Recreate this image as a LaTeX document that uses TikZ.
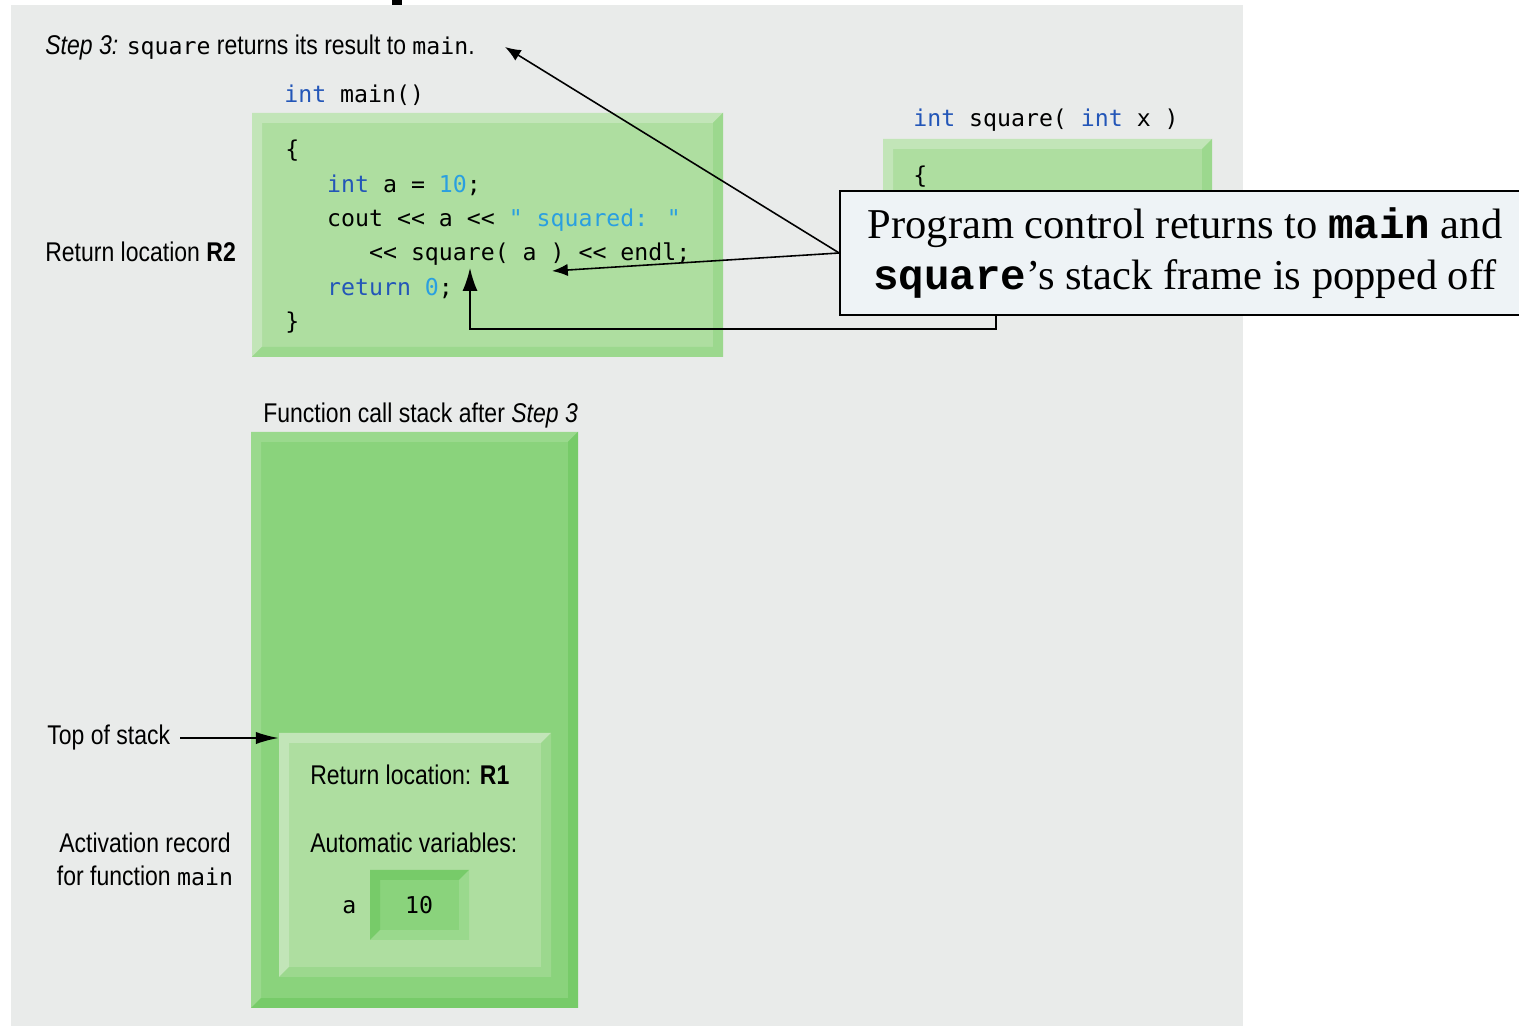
\documentclass[tikz,border=0pt]{standalone}
\usepackage{fontspec}
\newfontfamily\lblfont{Liberation Sans}[FakeStretch=0.85]
\newfontfamily\codefont{DejaVu Sans Mono}
\newfontfamily\notefont{Liberation Serif}
\newfontfamily\notemono{Liberation Mono}
\usetikzlibrary{fit,arrows.meta,positioning}

\definecolor{panel}{HTML}{E9EBEA}
\definecolor{paleface}{HTML}{AEDEA0}
\definecolor{palelight}{HTML}{C2E5B8}
\definecolor{paledark}{HTML}{9CD88E}
\definecolor{midface}{HTML}{8AD37C}
\definecolor{midlight}{HTML}{9AD98D}
\definecolor{middark}{HTML}{77CB69}
\definecolor{notefill}{HTML}{EEF3F6}
\definecolor{kwblue}{HTML}{2356B8}
\definecolor{litblue}{HTML}{2A9FE0}

\newcommand\kw[1]{\textcolor{kwblue}{#1}}
\newcommand\lit[1]{\textcolor{litblue}{#1}}
\newcommand\cfn[1]{{\codefont\fontsize{13.2}{16}\selectfont#1}}
\newcommand\bevw{0.2cm}

\tikzset{
	bevel/.style n args={3}{fill=#1, inner sep=0pt, path picture={
		\fill[#2] (path picture bounding box.south west) -- (path picture bounding box.north west)
			-- (path picture bounding box.north east) -- ++(-\bevw,-\bevw)
			-- ([shift={(\bevw,-\bevw)}]path picture bounding box.north west)
			-- ([shift={(\bevw,\bevw)}]path picture bounding box.south west) -- cycle;
		\fill[#3] (path picture bounding box.south west) -- (path picture bounding box.south east)
			-- (path picture bounding box.north east) -- ++(-\bevw,-\bevw)
			-- ([shift={(-\bevw,\bevw)}]path picture bounding box.south east)
			-- ([shift={(\bevw,\bevw)}]path picture bounding box.south west) -- cycle;
	}},
	lbl/.style={inner sep=0pt, font=\lblfont\fontsize{15.4}{18.8}\selectfont},
	code/.style={inner sep=0pt, font=\codefont\fontsize{13.2}{19.5}\selectfont},
	arr/.style={line width=0.9pt, -{Latex[length=9pt,width=7pt]}},
}

\begin{document}
\begin{tikzpicture}[x=0.02cm, y=-0.02cm]
	\useasboundingbox (0,0) rectangle (1519,1026);
	\fill[panel] (11,5) rectangle (1243,1026);
	\fill[black] (392,0) rectangle (402,5);

	\node[fit={(252,113) (723,357)}, bevel={paleface}{palelight}{paledark}] (mainbox) {};
	\node[fit={(883,139) (1212,300)}, bevel={paleface}{palelight}{paledark}] (sqbox) {};
	\node[fit={(251,432) (578,1008)}, bevel={midface}{midlight}{middark}] (stack) {};
	\node[fit={(279,733) (551,977)}, bevel={paleface}{palelight}{paledark}] (record) {};
	\node[fit={(370,870) (469,940)}, bevel={midface}{middark}{midlight}] (aval) {};

	\node[lbl, anchor=base west] (step) at (45,55) {\textit{Step 3:} \cfn{square} returns its result to \cfn{main}.};
	\node[code, anchor=base west] (mainsig) at (284,103) {\kw{int} main()};
	\node[code, anchor=north west, align=left] (mainbody) at (285,140) {\{\\
		\hphantom{xxx}\kw{int} a = \lit{10};\\
		\hphantom{xxx}cout << a << \lit{" squared: "}\\
		\hphantom{xxxxxx}<< square( a ) << endl;\\
		\hphantom{xxx}\kw{return} \lit{0};\\
		\}};
	\node[code, anchor=base west] (sqsig) at (913,127) {\kw{int} square( \kw{int} x )};
	\node[code, anchor=base west] (sqbrace) at (913,184) {\{};
	\node[lbl, anchor=base west] (rtwo) at (45,262) {Return location \textbf{R2}};
	\node[lbl, anchor=base west] (caption) at (263,423) {Function call stack after \textit{Step 3}};
	\node[lbl, anchor=base west] (tos) at (47,745) {Top of stack};
	\node[lbl, anchor=base west] (rone) at (310,785) {Return location: \textbf{R1}};
	\node[lbl, anchor=base west] (autovars) at (310,853) {Automatic variables:};
	\node[code, anchor=base west] (aname) at (342,914) {a};
	\node[code, anchor=base] (aten) at (419,914) {10};
	\node[lbl, align=center] (actrec) at (145,859) {Activation record\\for function \cfn{main}};

	\node[draw, line width=1pt, fill=notefill, minimum width=13.8cm, minimum height=2.48cm, align=center,
		font=\notefont\fontsize{24.2}{29}\selectfont] (note) at (1185,253)
		{Program control returns to {\notemono\bfseries main} and\\{\notemono\bfseries square}’s stack frame is popped off};

	\coordinate (tipstep) at (505,47);
	\coordinate (tipcall) at (552,271);
	\coordinate (tipret) at (470,268);
	\draw[arr] (note.west) -- (tipstep);
	\draw[arr] (note.west) -- (tipcall);
	\draw[arr, -{Latex[length=13pt,width=8.5pt]}] ([xshift=3.14cm]note.south west) -- ++(0,13) -| (tipret);
	\draw[arr, -{Latex[length=13pt,width=7pt]}] ([xshift=0.2cm]tos.east) -- (record.west |- tos.east);
\end{tikzpicture}
\end{document}
